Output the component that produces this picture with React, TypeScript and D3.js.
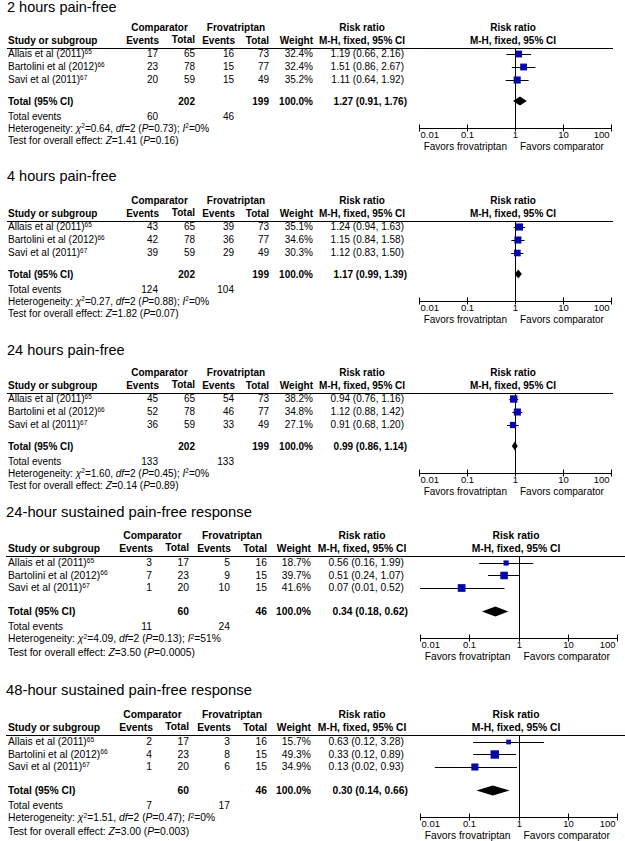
import React from 'react';
import * as d3 from 'd3';

const panelTitles = [
  '2 hours pain-free',
  '4 hours pain-free',
  '24 hours pain-free',
  '24-hour sustained pain-free response',
  '48-hour sustained pain-free response',
];
const studyNames = ['Allais et al (2011)', 'Bartolini et al (2012)', 'Savi et al (2011)'];
const studyRefs = ['65', '66', '67'];

const compEvents = [[17, 23, 20], [43, 42, 39], [45, 52, 36], [3, 7, 1], [2, 4, 1]];
const compTotals = [[65, 78, 59], [65, 78, 59], [65, 78, 59], [17, 23, 20], [17, 23, 20]];
const frovEvents = [[16, 15, 15], [39, 36, 29], [54, 46, 33], [5, 9, 10], [3, 8, 6]];
const frovTotals = [[73, 77, 49], [73, 77, 49], [73, 77, 49], [16, 15, 15], [16, 15, 15]];
const weights = [[32.4, 32.4, 35.2], [35.1, 34.6, 30.3], [38.2, 34.8, 27.1], [18.7, 39.7, 41.6], [15.7, 49.3, 34.9]];
const riskRatios = [[1.19, 1.51, 1.11], [1.24, 1.15, 1.12], [0.94, 1.12, 0.91], [0.56, 0.51, 0.07], [0.63, 0.33, 0.13]];
const lowerCI = [[0.66, 0.86, 0.64], [0.94, 0.84, 0.83], [0.76, 0.88, 0.68], [0.16, 0.24, 0.01], [0.12, 0.12, 0.02]];
const upperCI = [[2.16, 2.67, 1.92], [1.63, 1.58, 1.5], [1.16, 1.42, 1.2], [1.99, 1.07, 0.52], [3.28, 0.89, 0.93]];

const pooledRR = [1.27, 1.17, 0.99, 0.34, 0.3];
const pooledLo = [0.91, 0.99, 0.86, 0.18, 0.14];
const pooledHi = [1.76, 1.39, 1.14, 0.62, 0.66];
const compTotalSum = [202, 202, 202, 60, 60];
const frovTotalSum = [199, 199, 199, 46, 46];
const compEventSum = [60, 124, 133, 11, 7];
const frovEventSum = [46, 104, 133, 24, 17];
const chiSq = ['0.64', '0.27', '1.60', '4.09', '1.51'];
const hetDf = [2, 2, 2, 2, 2];
const hetP = ['0.73', '0.88', '0.45', '0.13', '0.47'];
const iSq = [0, 0, 0, 51, 0];
const zStat = ['1.41', '1.82', '0.14', '3.50', '3.00'];
const zP = ['0.16', '0.07', '0.89', '0.0005', '0.003'];

const tickValues = [0.01, 0.1, 1, 10, 100];
const tickLabels = ['0.01', '0.1', '1', '10', '100'];

const layoutA = {
  fs: 10, fsB: 10, titleFs: 14.5, titleX: 7,
  cEv: 158, cTot: 195, fEv: 234, fTot: 269, wt: 313, rr: 404, rrB: 407,
  compC: 159.5, frovC: 236, rrHdrC: 362, plotHdrC: 513,
  plotL: 419, plotR: 611, lineX1: 7, lineX2: 613,
  comp: -21, hdr: -8, row0: 5.5, rowStep: 13, total: 53, te: 68, het: 80, test: 92.5,
  axis: 80, tick: 86.5, fav: 98, dh: 4.5,
};
const layoutB = {
  fs: 10.3, fsB: 10.3, titleFs: 14.8, titleX: 6,
  cEv: 152, cTot: 189, fEv: 230, fTot: 267, wt: 311, rr: 404, rrB: 408,
  compC: 152.5, frovC: 232, rrHdrC: 362, plotHdrC: 516,
  plotL: 420, plotR: 617, lineX1: 6, lineX2: 625,
  comp: -20.5, hdr: -7.5, row0: 6.5, rowStep: 12.5, total: 55.5, te: 70.5, het: 82.5, test: 96,
  axis: 81.5, tick: 88.5, fav: 100.5, dh: 5,
};
const panelLayouts = [layoutA, layoutA, layoutA, layoutB, layoutB];
const lineYs = [48, 221, 393, 556, 735];
const titleBaselines = [11.5, 181, 355, 516.5, 695];

const FONT = "Arial, 'Liberation Sans', sans-serif";
const BLUE = '#0808a8';
const f2 = d3.format('.2f');
const f1 = d3.format('.1f');

function Panel({ p }: { p: number }) {
  const L = panelLayouts[p];
  const ly = lineYs[p];
  const x = d3.scaleLog().domain([0.01, 100]).range([L.plotL, L.plotR]);
  const fs = L.fs;
  const by = (c: number) => ly + c + 0.35 * fs;
  const rowC = (i: number) => ly + L.row0 + i * L.rowStep;
  const axisY = Math.round(ly + L.axis) + 0.5;
  const x1 = Math.round(x(1)) + 0.5;
  const supFs = fs * 0.65;
  const totalC = ly + L.total;
  return (
    <g fontFamily={FONT} fontSize={fs} fill="#000">
      <text x={L.titleX} y={titleBaselines[p]} fontSize={L.titleFs}>{panelTitles[p]}</text>
      <g fontWeight="bold" fontSize={L.fsB}>
        <text x={L.compC} y={by(L.comp)} textAnchor="middle">Comparator</text>
        <text x={L.frovC} y={by(L.comp)} textAnchor="middle">Frovatriptan</text>
        <text x={L.rrHdrC} y={by(L.comp)} textAnchor="middle">Risk ratio</text>
        <text x={L.rrHdrC} y={by(L.hdr)} textAnchor="middle">M-H, fixed, 95% CI</text>
        <text x={L.plotHdrC} y={by(L.comp)} textAnchor="middle">Risk ratio</text>
        <text x={L.plotHdrC} y={by(L.hdr)} textAnchor="middle">M-H, fixed, 95% CI</text>
        <text x={8} y={by(L.hdr)}>Study or subgroup</text>
        <text x={L.cEv + 1} y={by(L.hdr)} textAnchor="end">Events</text>
        <text x={L.cTot} y={by(L.hdr) - 1} textAnchor="end">Total</text>
        <text x={L.fEv + 1} y={by(L.hdr)} textAnchor="end">Events</text>
        <text x={L.fTot} y={by(L.hdr)} textAnchor="end">Total</text>
        <text x={L.wt} y={by(L.hdr)} textAnchor="end">Weight</text>
      </g>
      <line x1={L.lineX1} x2={L.lineX2} y1={ly + 0.5} y2={ly + 0.5} stroke="#000" strokeWidth={1} />
      {studyNames.map((name, i) => {
        const yb = rowC(i) + 0.35 * fs;
        return (
          <g key={i}>
            <text x={8} y={yb}>
              {name}
              <tspan dy={-3.5} fontSize={supFs}>{studyRefs[i]}</tspan>
            </text>
            <text x={L.cEv} y={yb} textAnchor="end">{compEvents[p][i]}</text>
            <text x={L.cTot} y={yb} textAnchor="end">{compTotals[p][i]}</text>
            <text x={L.fEv} y={yb} textAnchor="end">{frovEvents[p][i]}</text>
            <text x={L.fTot} y={yb} textAnchor="end">{frovTotals[p][i]}</text>
            <text x={L.wt} y={yb} textAnchor="end">{f1(weights[p][i])}%</text>
            <text x={L.rr} y={yb} textAnchor="end">
              {`${f2(riskRatios[p][i])} (${f2(lowerCI[p][i])}, ${f2(upperCI[p][i])})`}
            </text>
          </g>
        );
      })}
      <g fontWeight="bold" fontSize={L.fsB}>
        <text x={8} y={totalC + 0.35 * fs}>Total (95% CI)</text>
        <text x={L.cTot} y={totalC + 0.35 * fs} textAnchor="end">{compTotalSum[p]}</text>
        <text x={L.fTot} y={totalC + 0.35 * fs} textAnchor="end">{frovTotalSum[p]}</text>
        <text x={L.wt} y={totalC + 0.35 * fs} textAnchor="end">100.0%</text>
        <text x={L.rrB} y={totalC + 0.35 * fs} textAnchor="end">
          {`${f2(pooledRR[p])} (${f2(pooledLo[p])}, ${f2(pooledHi[p])})`}
        </text>
      </g>
      <text x={8} y={by(L.te)}>Total events</text>
      <text x={L.cEv} y={by(L.te)} textAnchor="end">{compEventSum[p]}</text>
      <text x={L.fEv} y={by(L.te)} textAnchor="end">{frovEventSum[p]}</text>
      <text x={8} y={by(L.het)}>
        <tspan>Heterogeneity: </tspan>
        <tspan fontStyle="italic">χ</tspan>
        <tspan dy={-3.5} fontSize={supFs}>2</tspan>
        <tspan dy={3.5}>{`=${chiSq[p]}, `}</tspan>
        <tspan fontStyle="italic">df</tspan>
        <tspan>{`=${hetDf[p]} (`}</tspan>
        <tspan fontStyle="italic">P</tspan>
        <tspan>{`=${hetP[p]}); `}</tspan>
        <tspan fontStyle="italic">I</tspan>
        <tspan dy={-3.5} fontSize={supFs}>2</tspan>
        <tspan dy={3.5}>{`=${iSq[p]}%`}</tspan>
      </text>
      <text x={8} y={by(L.test)}>
        <tspan>Test for overall effect: </tspan>
        <tspan fontStyle="italic">Z</tspan>
        <tspan>{`=${zStat[p]} (`}</tspan>
        <tspan fontStyle="italic">P</tspan>
        <tspan>{`=${zP[p]})`}</tspan>
      </text>

      {/* forest plot */}
      <line x1={x1} x2={x1} y1={ly} y2={axisY} stroke="#000" strokeWidth={1} />
      <line x1={x(0.01)} x2={x(100)} y1={axisY} y2={axisY} stroke="#000" strokeWidth={1} />
      {tickValues.map((t, k) => {
        const tx = Math.round(x(t)) + 0.5;
        const anchor = k === 0 ? 'start' : k === tickValues.length - 1 ? 'end' : 'middle';
        const lx = k === 0 ? tx + 1 : k === tickValues.length - 1 ? tx - 2 : tx;
        return (
          <g key={k}>
            <line x1={tx} x2={tx} y1={axisY - 4} y2={axisY + 3} stroke="#000" strokeWidth={1} />
            <text x={lx} y={ly + L.tick + 0.35 * 9.5} fontSize={9.5} textAnchor={anchor}>{tickLabels[k]}</text>
          </g>
        );
      })}
      <text x={x(1) - 8} y={by(L.fav)} textAnchor="end">Favors frovatriptan</text>
      <text x={x(1) + 5} y={by(L.fav)} textAnchor="start">Favors comparator</text>
      {studyNames.map((_, i) => {
        const cy = rowC(i);
        const s = 1.2 * Math.sqrt(weights[p][i]);
        const lo = Math.max(0.01, lowerCI[p][i]);
        const hi = Math.min(100, upperCI[p][i]);
        return (
          <g key={i}>
            <line x1={x(lo)} x2={x(hi)} y1={Math.round(cy) + 0.5} y2={Math.round(cy) + 0.5} stroke="#000" strokeWidth={1} />
            <rect x={x(riskRatios[p][i]) - s / 2} y={cy - s / 2 + 0.5} width={s} height={s} fill={BLUE} />
          </g>
        );
      })}
      <path
        d={`M${x(pooledLo[p])},${totalC}L${x(pooledRR[p])},${totalC - L.dh}L${x(pooledHi[p])},${totalC}L${x(pooledRR[p])},${totalC + L.dh}Z`}
        fill="#000"
      />
    </g>
  );
}

export default function App() {
  return (
    <svg
      width={625}
      height={841}
      style={{ position: 'absolute', left: 0, top: 0, background: '#fff' }}
    >
      <rect width={625} height={841} fill="#fff" />
      {panelTitles.map((_, p) => (
        <Panel key={p} p={p} />
      ))}
    </svg>
  );
}
